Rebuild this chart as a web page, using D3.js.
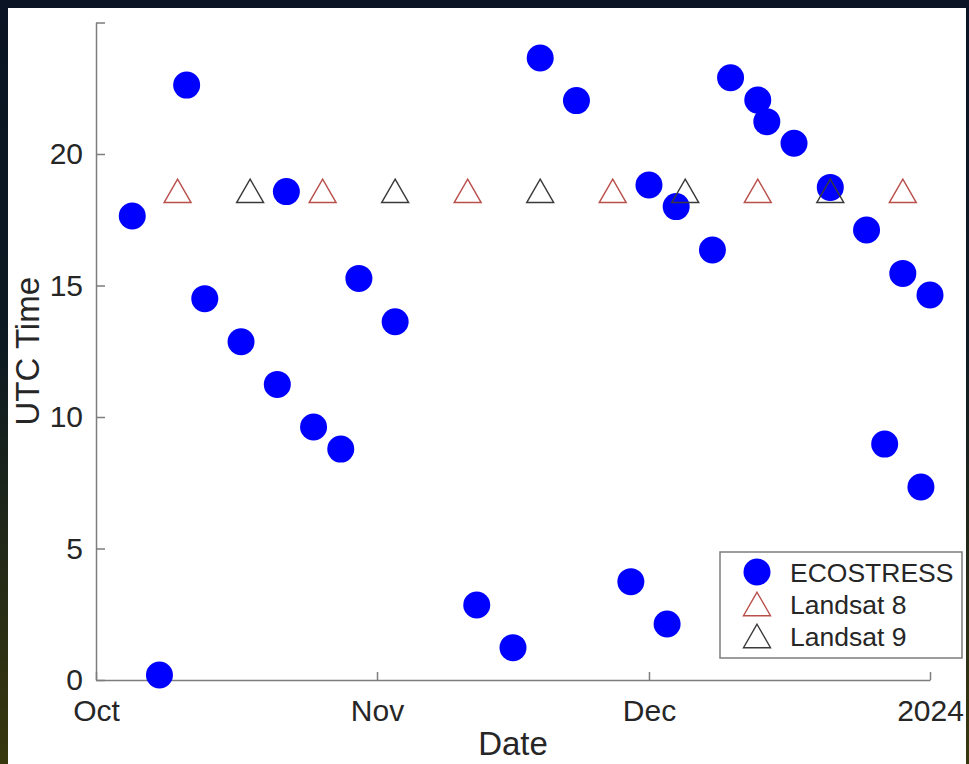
<!DOCTYPE html>
<html>
<head>
<meta charset="utf-8">
<script src="https://cdn.jsdelivr.net/npm/d3@7"></script>
<style>
  html, body { margin: 0; padding: 0; background: #08111f; }
  svg { display: block; }
  text { font-family: "Liberation Sans", Arial, Helvetica, sans-serif; fill: #262626; }
</style>
</head>
<body>
<script>
// ECOSTRESS overpass dates and UTC hour of each acquisition
const ecostressDates = [
  "2023-10-05", "2023-10-08", "2023-10-11", "2023-10-13", "2023-10-17",
  "2023-10-21", "2023-10-22", "2023-10-25", "2023-10-28", "2023-10-30",
  "2023-11-03", "2023-11-12", "2023-11-16", "2023-11-19", "2023-11-23",
  "2023-11-29", "2023-12-01", "2023-12-03", "2023-12-04", "2023-12-08",
  "2023-12-10", "2023-12-13", "2023-12-14", "2023-12-17", "2023-12-21",
  "2023-12-25", "2023-12-27", "2023-12-29", "2023-12-31", "2024-01-01"
];
const ecostressHours = [
  17.64, 0.19, 22.62, 14.50, 12.86,
  11.24, 18.57, 9.62, 8.78, 15.27,
  13.62, 2.85, 1.23, 23.65, 22.03,
  3.74, 18.82, 2.13, 18.00, 16.35,
  22.90, 22.05, 21.23, 20.41, 18.73,
  17.11, 8.97, 15.46, 7.34, 14.64
];

// Landsat 8 and Landsat 9 overpasses
const landsat8Dates = ["2023-10-10", "2023-10-26", "2023-11-11", "2023-11-27", "2023-12-13", "2023-12-29"];
const landsat8Hours = [18.6, 18.6, 18.6, 18.6, 18.6, 18.6];
const landsat9Dates = ["2023-10-18", "2023-11-03", "2023-11-19", "2023-12-05", "2023-12-21"];
const landsat9Hours = [18.6, 18.6, 18.6, 18.6, 18.6];

// Axis ticks
const xTickDates = ["2023-10-01", "2023-11-01", "2023-12-01", "2024-01-01"];
const xTickLabels = ["Oct", "Nov", "Dec", "2024"];
const yTickValues = [0, 5, 10, 15, 20, 25];
const yTickLabels = ["0", "5", "10", "15", "20", ""];

const seriesNames = ["ECOSTRESS", "Landsat 8", "Landsat 9"];

const W = 969, H = 764;
const parse = d3.utcParse("%Y-%m-%d");

const svg = d3.select("body").append("svg").attr("width", W).attr("height", H);

// Dark backdrop behind the figure panel
const defs = svg.append("defs");
const grad = defs.append("linearGradient").attr("id", "bg").attr("x1", 0).attr("y1", 0).attr("x2", 0).attr("y2", 1);
grad.append("stop").attr("offset", "0%").attr("stop-color", "#0a1424");
grad.append("stop").attr("offset", "45%").attr("stop-color", "#0d1a22");
grad.append("stop").attr("offset", "100%").attr("stop-color", "#38380e");
svg.append("rect").attr("width", W).attr("height", H).attr("fill", "url(#bg)");

// White figure panel
svg.append("rect").attr("x", 8).attr("y", 8).attr("width", 958).attr("height", H - 8).attr("fill", "#ffffff");

const plotL = 96, plotR = 930, plotT = 22.5, plotB = 680;

const x = d3.scaleUtc()
  .domain([parse("2023-10-01"), parse("2024-01-01")])
  .range([plotL, plotR]);
const y = d3.scaleLinear().domain([0, 25]).range([plotB, plotT]);

const axisColor = "#7d7d7d";

// X axis (ticks point inward)
const xAxis = d3.axisBottom(x)
  .tickValues(xTickDates.map(parse))
  .tickFormat((d, i) => xTickLabels[i])
  .tickSizeInner(-8).tickSizeOuter(0).tickPadding(20);
const gx = svg.append("g").attr("transform", `translate(0,${plotB})`).call(xAxis);

// Y axis
const yAxis = d3.axisLeft(y)
  .tickValues(yTickValues)
  .tickFormat((d, i) => yTickLabels[i])
  .tickSizeInner(-9).tickSizeOuter(0).tickPadding(13);
const gy = svg.append("g").attr("transform", `translate(${plotL},0)`).call(yAxis);

[gx, gy].forEach(g => {
  g.select(".domain").attr("stroke", axisColor).attr("stroke-width", 1.5);
  g.selectAll(".tick line").attr("stroke", axisColor).attr("stroke-width", 1.5);
  g.selectAll(".tick text")
    .attr("fill", "#262626")
    .style("font-family", '"Liberation Sans", Arial, Helvetica, sans-serif')
    .style("font-size", "30px");
});

// Axis titles
svg.append("text")
  .attr("x", (plotL + plotR) / 2).attr("y", 755)
  .attr("text-anchor", "middle")
  .style("font-size", "33px")
  .text("Date");
svg.append("text")
  .attr("transform", `translate(39,${(plotT + plotB) / 2}) rotate(-90)`)
  .attr("text-anchor", "middle")
  .style("font-size", "33px")
  .text("UTC Time");

// Marker shapes
const circleR = 13.5;
const triW = 27, triH = 23.5;
const triPath = (cx, cy) =>
  `M${cx},${cy - triH / 2}L${cx + triW / 2},${cy + triH / 2}L${cx - triW / 2},${cy + triH / 2}Z`;
const red = "#b94f4b", dark = "#3a3a3a";

const plot = svg.append("g");

plot.selectAll("circle.eco")
  .data(ecostressDates.map((d, i) => ({ date: parse(d), hour: ecostressHours[i] })))
  .join("circle")
  .attr("class", "eco")
  .attr("cx", d => x(d.date))
  .attr("cy", d => y(d.hour))
  .attr("r", circleR)
  .attr("fill", "#0000ff");

plot.selectAll("path.l8")
  .data(landsat8Dates.map((d, i) => ({ date: parse(d), hour: landsat8Hours[i] })))
  .join("path")
  .attr("class", "l8")
  .attr("d", d => triPath(x(d.date), y(d.hour)))
  .attr("fill", "none").attr("stroke", red).attr("stroke-width", 1.4);

plot.selectAll("path.l9")
  .data(landsat9Dates.map((d, i) => ({ date: parse(d), hour: landsat9Hours[i] })))
  .join("path")
  .attr("class", "l9")
  .attr("d", d => triPath(x(d.date), y(d.hour)))
  .attr("fill", "none").attr("stroke", dark).attr("stroke-width", 1.4);

// Legend
const lg = svg.append("g");
lg.append("rect")
  .attr("x", 720).attr("y", 552).attr("width", 242).attr("height", 106)
  .attr("fill", "#ffffff").attr("stroke", axisColor).attr("stroke-width", 1.5);
const rowY = [572, 604, 636];
const mx = 757;
lg.append("circle").attr("cx", mx).attr("cy", rowY[0]).attr("r", circleR).attr("fill", "#0000ff");
lg.append("path").attr("d", triPath(mx, rowY[1])).attr("fill", "none").attr("stroke", red).attr("stroke-width", 1.4);
lg.append("path").attr("d", triPath(mx, rowY[2])).attr("fill", "none").attr("stroke", dark).attr("stroke-width", 1.4);
seriesNames.forEach((name, i) => {
  lg.append("text")
    .attr("x", 790).attr("y", rowY[i]).attr("dy", "0.36em")
    .style("font-size", "26.5px")
    .text(name);
});
</script>
</body>
</html>
